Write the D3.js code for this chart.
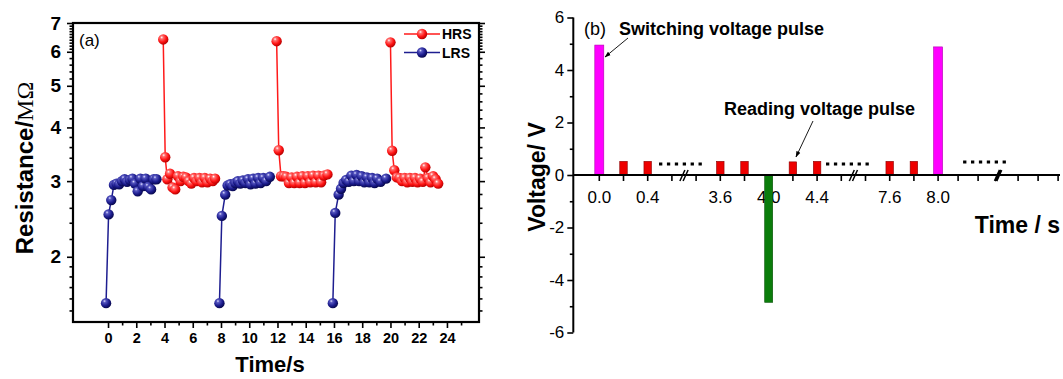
<!DOCTYPE html>
<html><head><meta charset="utf-8">
<script src="https://cdn.jsdelivr.net/npm/d3@7"></script>
<style>
body{margin:0;background:#fff}
svg{display:block}
text{font-family:Arial,"Liberation Sans",Helvetica,sans-serif;fill:#000}
</style>
</head><body>
<svg id="c" width="1063" height="379"></svg>
<script>
// ---------------- Panel (a) data: resistance vs time ----------------
const lrsTimeA = [-0.14,0.04,0.23,0.42,0.6,0.79,0.98,1.17,1.35,1.54,1.73,1.91,2.1,2.29,2.48,2.67,2.86,3.05,3.24,3.43];
const lrsResA  = [1.56,2.51,2.71,2.94,2.96,2.95,3.0,3.03,2.99,3.02,3.04,2.96,2.84,3.04,2.92,3.04,2.91,2.87,3.03,3.03];
const hrsTimeA = [3.91,4.05,4.2,4.39,4.57,4.76,4.95,5.14,5.33,5.52,5.71,5.9,6.09,6.28,6.47,6.66,6.85,7.04,7.23,7.42,7.58];
const hrsResA  = [6.41,3.41,3.03,3.12,2.9,2.87,3.08,3.0,3.07,3.06,3.0,2.96,3.05,3.0,3.05,2.98,3.05,2.98,3.04,3.0,3.04];
const lrsTimeB = [7.89,8.06,8.3,8.47,8.65,8.83,9.01,9.19,9.37,9.55,9.73,9.91,10.09,10.27,10.45,10.63,10.81,10.99,11.2,11.46];
const lrsResB  = [1.56,2.49,2.79,2.93,2.95,2.92,2.97,3.0,2.96,3.01,2.97,3.03,2.95,3.04,2.96,3.05,2.97,3.05,3.0,3.07];
const hrsTimeB = [11.94,12.09,12.25,12.43,12.62,12.81,13.0,13.19,13.38,13.57,13.76,13.95,14.14,14.33,14.52,14.71,14.9,15.09,15.28,15.54];
const hrsResB  = [6.35,3.54,3.08,3.08,3.07,2.97,3.06,2.97,3.07,2.97,3.08,2.97,3.08,2.98,3.09,2.98,3.09,2.98,3.09,3.11];
const lrsTimeC = [15.92,16.09,16.33,16.5,16.68,16.86,17.05,17.23,17.41,17.6,17.78,17.96,18.15,18.33,18.51,18.7,18.88,19.06,19.3,19.69];
const lrsResC  = [1.56,2.53,2.79,2.88,2.97,3.02,2.99,3.09,3.0,3.1,3.0,3.08,2.98,3.06,2.98,3.05,2.97,3.04,2.99,3.04];
const hrsTimeC = [20.0,20.12,20.27,20.45,20.64,20.82,21.0,21.19,21.37,21.55,21.74,21.92,22.1,22.29,22.47,22.65,22.84,23.02,23.2,23.38];
const hrsResC  = [6.31,3.53,3.18,3.06,3.05,3.0,3.05,2.98,3.05,2.99,3.05,2.98,3.04,2.99,3.23,3.05,2.98,3.08,3.03,2.96];
const resMajorTicks = [2,3,4,5,6,7];
const resMinorTicks = [1.5,1.6,1.7,1.8,1.9,2.2,2.4,2.6,2.8,3.2,3.4,3.6,3.8,4.2,4.4,4.6,4.8,5.2,5.4,5.6,5.8,6.1,6.2,6.3,6.4,6.5,6.6,6.7,6.8,6.9];
const timeMajorTicks = [0,2,4,6,8,10,12,14,16,18,20,22,24];
const timeMinorTicks = [1,3,5,7,9,11,13,15,17,19,21,23,25];
const seriesNames = ["HRS","LRS"];

// ---------------- Panel (b) data: pulse scheme ----------------
const pulseTimes = [0.0,0.2,0.4,3.6,3.8,4.0,4.2,4.4,7.6,7.8,8.0];
const pulseVolts = [4.95,0.52,0.52,0.52,0.52,-4.85,0.5,0.52,0.52,0.52,4.88];
const pulseKinds = ["set","read","read","read","read","reset","read","read","read","read","set"];
const pulseTickTimes = [0,0.2,0.4,0.6,3.4,3.6,3.8,4.0,4.2,4.4,4.6,7.4,7.6,7.8,8.0,8.2,8.4,8.8,9.0,9.2];
const pulseTickLabels = ["0.0","0.4","3.6","4.0","4.4","7.6","8.0"];
const breakTimes = [2.0,6.0,8.6];
const ellipsisTimes = [1.54,5.26,8.46];
const ellipsisVolts = [0.42,0.42,0.5];
const voltMajorTicks = [-6,-4,-2,0,2,4,6];
const voltMinorTicks = [-5,-3,-1,1,3,5];

const svg = d3.select("#c");
const defs = svg.append("defs");
function sphere(id, hi, mid, base, edge){
  const g = defs.append("radialGradient").attr("id",id).attr("cx","38%").attr("cy","35%").attr("r","65%").attr("fx","35%").attr("fy","30%");
  g.append("stop").attr("offset","0%").attr("stop-color",hi);
  g.append("stop").attr("offset","22%").attr("stop-color",mid);
  g.append("stop").attr("offset","65%").attr("stop-color",base);
  g.append("stop").attr("offset","100%").attr("stop-color",edge);
}
sphere("gR","#ffffff","#ff7070","#ff1414","#b80000");
sphere("gB","#e0e0ff","#5656c0","#1c1c8e","#08084e");
const arrow = defs.append("marker").attr("id","arr").attr("viewBox","0 0 10 10").attr("refX",9).attr("refY",5)
  .attr("markerWidth",7).attr("markerHeight",7).attr("orient","auto");
arrow.append("path").attr("d","M0,1.5 L10,5 L0,8.5 Z").attr("fill","#000");

// ================= Panel (a) =================
const L = 73, R = 479, T = 23, B = 322;
const xa = d3.scaleLinear().domain([-2.48, 26.27]).range([L, R]);
const ya = d3.scaleLog().domain([1.41, 7]).range([B, T]);

const pa = svg.append("g");
function styleAxis(g, fs, weight){
  g.select(".domain").remove();
  g.selectAll("line").attr("stroke","#000").attr("stroke-width",1.6);
  g.selectAll("text").attr("font-size",fs).attr("font-weight",weight).attr("fill","#000")
    .attr("font-family","Arial, 'Liberation Sans', sans-serif");
}
// left axis
pa.append("g").attr("transform",`translate(${L},0)`)
  .call(d3.axisLeft(ya).tickValues(resMajorTicks).tickSize(6).tickPadding(6).tickFormat(d3.format("d")))
  .call(g=>styleAxis(g,19,"bold"));
pa.append("g").attr("transform",`translate(${L},0)`)
  .call(d3.axisLeft(ya).tickValues(resMinorTicks).tickSize(3.5).tickFormat(""))
  .call(g=>styleAxis(g,1,"normal"));
// right axis (mirror)
pa.append("g").attr("transform",`translate(${R},0)`)
  .call(d3.axisRight(ya).tickValues(resMajorTicks).tickSize(6).tickFormat(""))
  .call(g=>styleAxis(g,1,"normal"));
pa.append("g").attr("transform",`translate(${R},0)`)
  .call(d3.axisRight(ya).tickValues(resMinorTicks).tickSize(3.5).tickFormat(""))
  .call(g=>styleAxis(g,1,"normal"));
// bottom axis
pa.append("g").attr("transform",`translate(0,${B})`)
  .call(d3.axisBottom(xa).tickValues(timeMajorTicks).tickSize(6).tickPadding(5).tickFormat(d3.format("d")))
  .call(g=>styleAxis(g,14.5,"bold"));
pa.append("g").attr("transform",`translate(0,${B})`)
  .call(d3.axisBottom(xa).tickValues(timeMinorTicks).tickSize(3.5).tickFormat(""))
  .call(g=>styleAxis(g,1,"normal"));
// frame
pa.append("rect").attr("x",L).attr("y",T).attr("width",R-L).attr("height",B-T)
  .attr("fill","none").attr("stroke","#000").attr("stroke-width",2.2);

// series
const lineA = d3.line().x(d=>xa(d[0])).y(d=>ya(d[1]));
function drawSeries(times, vals, color, grad){
  const pts = times.map((t,i)=>[t, vals[i]]);
  pa.append("path").datum(pts).attr("d",lineA).attr("fill","none").attr("stroke",color).attr("stroke-width",1.5);
  pa.append("g").selectAll("circle").data(pts).join("circle")
    .attr("cx",d=>xa(d[0])).attr("cy",d=>ya(d[1])).attr("r",5.2).attr("fill",`url(#${grad})`);
}
drawSeries(lrsTimeA, lrsResA, "#1e1e90", "gB");
drawSeries(hrsTimeA, hrsResA, "#ff1a1a", "gR");
drawSeries(lrsTimeB, lrsResB, "#1e1e90", "gB");
drawSeries(hrsTimeB, hrsResB, "#ff1a1a", "gR");
drawSeries(lrsTimeC, lrsResC, "#1e1e90", "gB");
drawSeries(hrsTimeC, hrsResC, "#ff1a1a", "gR");

// legend
const legColors = ["#ff1a1a","#1e1e90"], legGrads = ["gR","gB"];
seriesNames.forEach((n,i)=>{
  const yy = 34 + i*18.5;
  pa.append("line").attr("x1",404).attr("x2",440).attr("y1",yy).attr("y2",yy).attr("stroke",legColors[i]).attr("stroke-width",1.5);
  pa.append("circle").attr("cx",422).attr("cy",yy).attr("r",5.2).attr("fill",`url(#${legGrads[i]})`);
  pa.append("text").attr("x",442).attr("y",yy+5).attr("font-size",14).attr("font-weight","bold").text(n);
});
pa.append("text").attr("x",79).attr("y",46).attr("font-size",17).text("(a)");
// axis titles
pa.append("text").attr("x",270).attr("y",372).attr("text-anchor","middle").attr("font-size",22).attr("font-weight","bold").text("Time/s");
const yt = pa.append("text").attr("transform","translate(33,168) rotate(-90)").attr("text-anchor","middle").attr("font-size",24).attr("font-weight","bold");
yt.append("tspan").text("Resistance/");
yt.append("tspan").attr("font-weight","normal").attr("font-family","'Liberation Serif','DejaVu Serif',serif").text("MΩ");

// ================= Panel (b) =================
const pb = svg.append("g");
const ax0 = 573.3;
const yb = d3.scaleLinear().domain([-6, 6]).range([332.5, 17.5]);
// broken time axis: compressed gaps between 0.6-3.4 s and 4.6-7.4 s
const xb = d3.scaleLinear().domain([0,0.6,3.4,4.6,7.4,8.0,9.2]).range([599.3,671.9,696.1,841.3,865.5,938.1,1058.1]);

// y axis
pb.append("line").attr("x1",ax0).attr("x2",ax0).attr("y1",yb(6)).attr("y2",yb(-6)).attr("stroke","#000").attr("stroke-width",2);
pb.append("g").attr("transform",`translate(${ax0},0)`)
  .call(d3.axisLeft(yb).tickValues(voltMajorTicks).tickSize(6).tickPadding(3).tickFormat(d3.format("d")))
  .call(g=>styleAxis(g,17,"normal"));
pb.append("g").attr("transform",`translate(${ax0},0)`)
  .call(d3.axisLeft(yb).tickValues(voltMinorTicks).tickSize(3.5).tickFormat(""))
  .call(g=>styleAxis(g,1,"normal"));
pb.selectAll("text").filter(function(){return this.textContent.startsWith("−");})
  .text(function(){return this.textContent.replace("−","-");});

// x ticks & labels
const y0 = yb(0);
pb.append("g").selectAll("line").data(pulseTickTimes).join("line")
  .attr("x1",d=>xb(d)).attr("x2",d=>xb(d)).attr("y1",y0).attr("y2",y0+6).attr("stroke","#000").attr("stroke-width",1.6);
pb.append("g").selectAll("text").data(pulseTickLabels).join("text")
  .attr("x",d=>xb(+d)).attr("y",y0+28).attr("text-anchor","middle").attr("font-size",17).text(d=>d);

// bars
const barW = {set:9, read:7.5, reset:8};
const barFill = {set:"#ff00ff", read:"#ee0000", reset:"#0b7d0b"};
const barStroke = {set:"#b000b0", read:"#8a0000", reset:"#055005"};
pb.append("g").selectAll("rect").data(pulseTimes.map((t,i)=>({t, v:pulseVolts[i], k:pulseKinds[i]}))).join("rect")
  .attr("x",d=>xb(d.t)-barW[d.k]/2).attr("width",d=>barW[d.k])
  .attr("y",d=>yb(Math.max(d.v,0))).attr("height",d=>Math.abs(yb(d.v)-yb(0)))
  .attr("fill",d=>barFill[d.k]).attr("stroke",d=>barStroke[d.k]).attr("stroke-width",0.6);

// x axis line
pb.append("line").attr("x1",ax0).attr("x2",1060).attr("y1",y0).attr("y2",y0).attr("stroke","#000").attr("stroke-width",2.2);

// break marks
breakTimes.forEach((t,i)=>{
  const cx = xb(t), gap = i===2 ? 1.6 : 3.2, sw = i===2 ? 2.2 : 1.5;
  [-gap/2, gap/2].forEach(o=>{
    pb.append("line").attr("x1",cx+o-2.5).attr("y1",y0+6).attr("x2",cx+o+2.5).attr("y2",y0-5)
      .attr("stroke","#000").attr("stroke-width",sw);
  });
});
// ellipsis dots
ellipsisTimes.forEach((t,i)=>{
  const cx = xb(t), cy = yb(ellipsisVolts[i]);
  pb.append("line").attr("x1",cx-21).attr("x2",cx+22).attr("y1",cy).attr("y2",cy)
    .attr("stroke","#000").attr("stroke-width",3).attr("stroke-dasharray","3.3,4.6");
});

// annotations
pb.append("text").attr("x",584).attr("y",35).attr("font-size",18).text("(b)");
pb.append("text").attr("x",619).attr("y",35).attr("font-size",18).attr("font-weight","bold").text("Switching voltage pulse");
pb.append("line").attr("x1",628).attr("y1",38).attr("x2",605).attr("y2",57).attr("stroke","#000").attr("stroke-width",0.9).attr("marker-end","url(#arr)");
pb.append("text").attr("x",724).attr("y",115).attr("font-size",18).attr("font-weight","bold").text("Reading voltage pulse");
pb.append("line").attr("x1",813).attr("y1",121).attr("x2",796).attr("y2",157).attr("stroke","#000").attr("stroke-width",0.9).attr("marker-end","url(#arr)");

pb.append("text").attr("x",1060).attr("y",233).attr("text-anchor","end").attr("font-size",23).attr("font-weight","bold").text("Time / s");
pb.append("text").attr("transform","translate(545,177) rotate(-90)").attr("text-anchor","middle").attr("font-size",23).attr("font-weight","bold").text("Voltage/ V");
</script>
</body></html>
